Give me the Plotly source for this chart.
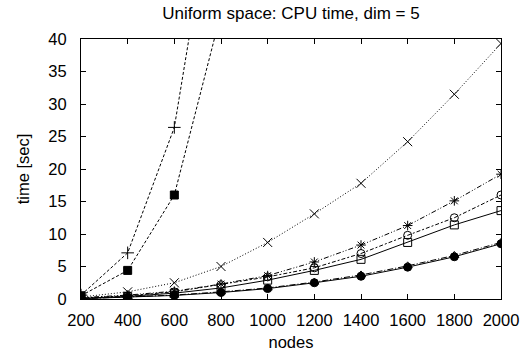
import plotly.graph_objects as go

# number of nodes
nodes = [200, 400, 600, 800, 1000, 1200, 1400, 1600, 1800, 2000]

# CPU time in seconds for each method
t_plus = [0.6, 7.1, 26.4, 70.0]
t_fsquare = [0.5, 4.4, 16.0, 44.0]
t_x = [0.3, 1.1, 2.5, 5.0, 8.7, 13.1, 17.8, 24.2, 31.5, 39.3]
t_star = [0.2, 0.6, 1.2, 2.3, 3.6, 5.7, 8.3, 11.3, 15.1, 19.2]
t_ocircle = [0.15, 0.5, 1.1, 2.2, 3.4, 4.8, 7.0, 9.8, 12.5, 16.0]
t_osquare = [0.1, 0.4, 0.9, 1.7, 2.9, 4.4, 6.1, 8.7, 11.4, 13.6]
t_fcircle = [0.05, 0.25, 0.55, 1.0, 1.6, 2.5, 3.5, 4.9, 6.5, 8.5]
t_triangle = [0.05, 0.3, 0.6, 1.1, 1.7, 2.6, 3.7, 5.1, 6.7, 8.7]

x_ticks = [200, 400, 600, 800, 1000, 1200, 1400, 1600, 1800, 2000]
y_ticks = [0, 5, 10, 15, 20, 25, 30, 35, 40]

series = [
    (t_triangle, "triangle-up-open", 8, "6px,2px,1px,2px"),
    (t_fcircle, "circle", 8, "solid"),
    (t_osquare, "square-open", 8, "solid"),
    (t_ocircle, "circle-open", 8, "2px,2px,4px,2px"),
    (t_star, "asterisk-open", 8, "5px,2px,1px,2px,1px,2px"),
    (t_x, "x-thin-open", 9, "1px,2px"),
    (t_fsquare, "square", 8, "3px,2px"),
    (t_plus, "cross-thin-open", 9, "3px,2px"),
]

fig = go.Figure()
for ys, sym, size, dash in series:
    fig.add_trace(go.Scatter(
        x=nodes[:len(ys)], y=ys, mode="lines+markers",
        line=dict(color="black", width=1, dash=dash),
        marker=dict(symbol=sym, size=size, color="black",
                    line=dict(color="black", width=1)),
        cliponaxis=True, showlegend=False,
    ))

font = dict(family="Liberation Sans, Arial, sans-serif", size=16.5, color="black")

fig.update_layout(
    width=524, height=354,
    margin=dict(l=81, r=23, t=39, b=55, autoexpand=False),
    paper_bgcolor="white", plot_bgcolor="white",
    font=font,
    title=dict(text="Uniform space: CPU time, dim = 5", x=0.5, xanchor="center",
               xref="paper", y=0.963, yanchor="middle", font=dict(size=17)),
)
fig.update_xaxes(
    range=[200, 2000], tickvals=x_ticks, ticks="inside", ticklen=5,
    tickcolor="black", showline=True, linecolor="black", linewidth=1,
    mirror="ticks", showgrid=False, zeroline=False, ticklabelstandoff=6,
    automargin=False,
    title=dict(text="nodes", standoff=8, font=dict(size=16.5)),
)
fig.update_yaxes(
    range=[0, 40], tickvals=y_ticks, ticks="inside", ticklen=5,
    tickcolor="black", showline=True, linecolor="black", linewidth=1,
    mirror="ticks", showgrid=False, zeroline=False, ticklabelstandoff=10,
    automargin=False,
    title=dict(text="time [sec]", standoff=14, font=dict(size=16.5)),
)

fig.write_html("out.html")
